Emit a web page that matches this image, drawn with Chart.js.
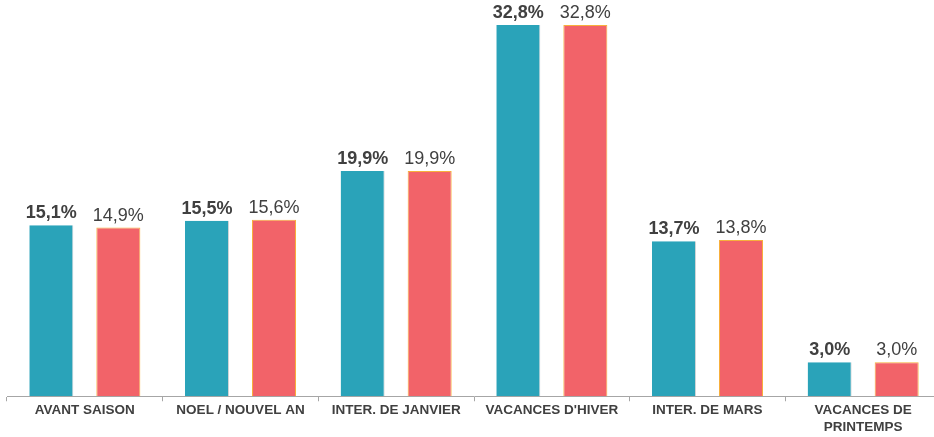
<!DOCTYPE html>
<html>
<head>
<meta charset="utf-8">
<script src="https://cdn.jsdelivr.net/npm/chart.js@4/dist/chart.umd.min.js"></script>
<style>
  html, body { margin: 0; padding: 0; background: #fff; overflow: hidden; }
  #wrap { width: 941px; height: 437px; position: relative; }
</style>
</head>
<body>
<div id="wrap"><canvas id="chart"></canvas></div>
<script>
// --- données ---
const periodes = ['AVANT SAISON', 'NOEL / NOUVEL AN', 'INTER. DE JANVIER', "VACANCES D'HIVER", 'INTER. DE MARS', ['VACANCES DE', 'PRINTEMPS']];
const serieA = [15.1, 15.5, 19.9, 32.8, 13.7, 3.0];
const serieB = [14.9, 15.6, 19.9, 32.8, 13.8, 3.0];

const TEXT = '#404040';
const FONT = "'Liberation Sans', Arial, sans-serif";

// étiquettes au-dessus des barres
const barLabels = {
    id: 'barLabels',
    afterDatasetsDraw(chart) {
        const ctx = chart.ctx;
        chart.data.datasets.forEach((ds, i) => {
            const meta = chart.getDatasetMeta(i);
            ctx.save();
            ctx.font = (i === 0 ? 'bold ' : '') + '18px ' + FONT;
            ctx.fillStyle = TEXT;
            ctx.textAlign = 'center';
            ctx.textBaseline = 'bottom';
            meta.data.forEach((bar, j) => {
                const txt = ds.data[j].toFixed(1).replace('.', ',') + '%';
                ctx.fillText(txt, bar.x, bar.y - 3);
            });
            ctx.restore();
        });
    }
};

new Chart(document.getElementById('chart'), {
    type: 'bar',
    data: {
        labels: periodes,
        datasets: [
            {
                label: 'A',
                data: serieA,
                backgroundColor: '#2aa3b9',
                borderColor: '#d0d4d6',
                borderWidth: { right: 1, left: 0, top: 0, bottom: 0 },
                borderSkipped: false,
                barPercentage: 0.657,
                categoryPercentage: 0.861
            },
            {
                label: 'B',
                data: serieB,
                backgroundColor: '#f26369',
                borderColor: '#f7b03c',
                borderWidth: 1,
                borderSkipped: 'bottom',
                barPercentage: 0.657,
                categoryPercentage: 0.861
            }
        ]
    },
    options: {
        responsive: true,
        maintainAspectRatio: false,
        animation: false,
        layout: { padding: { left: 7, right: 0, top: 0, bottom: 0 } },
        plugins: {
            legend: { display: false },
            tooltip: { enabled: false }
        },
        scales: {
            x: {
                border: { color: '#a6a6a6', width: 1 },
                grid: { drawOnChartArea: false, drawTicks: true, tickLength: 5, color: '#a6a6a6', offset: true },
                ticks: {
                    color: TEXT,
                    font: { family: FONT, size: 13.5, weight: 'bold', lineHeight: 1.25 },
                    padding: 1,
                    maxRotation: 0,
                    autoSkip: false
                }
            },
            y: {
                display: false,
                min: 0,
                max: 35
            }
        }
    },
    plugins: [barLabels]
});
</script>
</body>
</html>
